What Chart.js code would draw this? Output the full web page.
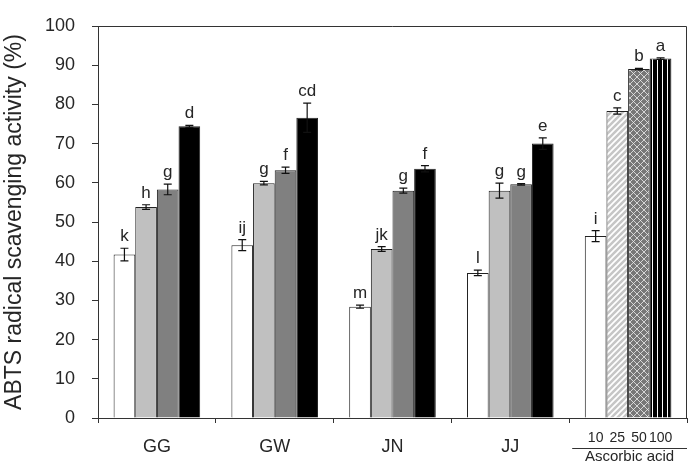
<!DOCTYPE html>
<html>
<head>
<meta charset="utf-8">
<script src="https://cdn.jsdelivr.net/npm/chart.js@4/dist/chart.umd.min.js"></script>
<style>
  html, body { margin: 0; padding: 0; background: #fff; }
  #wrap { width: 695px; height: 463px; }
</style>
</head>
<body>
<div id="wrap"><canvas id="chart" width="695" height="463"></canvas></div>
<script>
// ---- data ----
const categories = ['GG', 'GW', 'JN', 'JJ', 'Ascorbic acid'];
const concLabels = ['10', '25', '50', '100'];
const yTicks = [0, 10, 20, 30, 40, 50, 60, 70, 80, 90, 100];

// bar 1..4 of each group
const values1 = [41.7, 44.1, 28.4, 37.0, 46.4];
const values2 = [53.8, 59.9, 43.1, 58.0, 78.3];
const values3 = [58.3, 63.2, 58.0, 59.6, 89.0];
const values4 = [74.4, 76.6, 63.6, 70.0, 91.7];

const errors1 = [1.6, 1.4, 0.4, 0.7, 1.4];
const errors2 = [0.6, 0.45, 0.6, 1.9, 0.8];
const errors3 = [1.35, 0.8, 0.65, 0.2, 0.2];
const errors4 = [0.25, 3.75, 0.8, 1.45, 0.2];

const letters1 = ['k', 'ij', 'm', 'l', 'i'];
const letters2 = ['h', 'g', 'jk', 'g', 'c'];
const letters3 = ['g', 'f', 'g', 'g', 'b'];
const letters4 = ['d', 'cd', 'f', 'e', 'a'];

const FONT = '"Liberation Sans", Arial, sans-serif';
const TXT = '#262626';

// fill patterns for the ascorbic acid bars
function makePattern(kind) {
  const s = kind === 'stripe' ? 5 : (kind === 'diag' ? 6 : 7);
  const c = document.createElement('canvas');
  c.width = s; c.height = s;
  const g = c.getContext('2d');
  if (kind === 'diag') {
    g.fillStyle = '#c6c6c6';
    g.fillRect(0, 0, s, s);
    g.strokeStyle = '#fff';
    g.lineWidth = 1.7;
    g.beginPath();
    g.moveTo(-1, s + 1); g.lineTo(s + 1, -1);
    g.moveTo(-1, 1); g.lineTo(1, -1);
    g.moveTo(s - 1, s + 1); g.lineTo(s + 1, s - 1);
    g.stroke();
  } else if (kind === 'cross') {
    g.fillStyle = '#777';
    g.fillRect(0, 0, s, s);
    g.strokeStyle = '#eee';
    g.lineWidth = 0.8;
    g.beginPath();
    g.moveTo(0, 0); g.lineTo(s, s);
    g.moveTo(0, s); g.lineTo(s, 0);
    g.stroke();
  } else {
    g.fillStyle = '#000';
    g.fillRect(0, 0, s, s);
    g.fillStyle = '#fff';
    g.fillRect(2, 0, 1, s);
  }
  return g.createPattern(c, 'repeat');
}

const fills = [
  ['#fff', '#fff', '#fff', '#fff', '#fff'],
  ['#c0c0c0', '#c0c0c0', '#c0c0c0', '#c0c0c0', makePattern('diag')],
  ['#808080', '#808080', '#808080', '#808080', makePattern('cross')],
  ['#000', '#000', '#000', '#000', makePattern('stripe')]
];

const allValues = [values1, values2, values3, values4];
const allErrors = [errors1, errors2, errors3, errors4];
const allLetters = [letters1, letters2, letters3, letters4];

// error bars + significance letters
const errorBarPlugin = {
  id: 'errorBars',
  afterDatasetsDraw(chart) {
    const ctx = chart.ctx;
    const y = chart.scales.y;
    ctx.save();
    chart.data.datasets.forEach((ds, di) => {
      const meta = chart.getDatasetMeta(di);
      meta.data.forEach((bar, i) => {
        const v = allValues[di][i], e = allErrors[di][i];
        const top = y.getPixelForValue(v + e);
        const bot = y.getPixelForValue(v - e);
        ctx.strokeStyle = '#111';
        ctx.lineWidth = 1.2;
        ctx.beginPath();
        ctx.moveTo(bar.x, top); ctx.lineTo(bar.x, bot);
        ctx.moveTo(bar.x - 4, top); ctx.lineTo(bar.x + 4, top);
        ctx.moveTo(bar.x - 4, bot); ctx.lineTo(bar.x + 4, bot);
        ctx.stroke();
        ctx.fillStyle = TXT;
        ctx.font = '17px ' + FONT;
        ctx.textAlign = 'center';
        ctx.textBaseline = 'alphabetic';
        ctx.fillText(allLetters[di][i], bar.x, top - 7);
      });
    });
    ctx.restore();
  }
};

// frame (top/right) and the x labels
const framePlugin = {
  id: 'frame',
  afterDraw(chart) {
    const ctx = chart.ctx;
    const a = chart.chartArea;
    const x = chart.scales.x;
    ctx.save();
    ctx.strokeStyle = '#333';
    ctx.lineWidth = 1;
    ctx.beginPath();
    ctx.moveTo(a.left, a.top + 0.5); ctx.lineTo(a.right - 0.5, a.top + 0.5);
    ctx.lineTo(a.right - 0.5, a.bottom);
    ctx.stroke();

    ctx.fillStyle = TXT;
    ctx.textAlign = 'center';
    ctx.textBaseline = 'middle';
    ctx.font = '18px ' + FONT;
    for (let i = 0; i < categories.length - 1; i++) {
      ctx.fillText(categories[i], x.getPixelForValue(i), 447);
    }
    const last = categories.length - 1;
    ctx.font = '14px ' + FONT;
    concLabels.forEach((lab, di) => {
      const bar = chart.getDatasetMeta(di).data[last];
      ctx.fillText(lab, bar.x, 438);
    });
    const half = (x.getPixelForValue(1) - x.getPixelForValue(0)) / 2;
    const l0 = x.getPixelForValue(last) - half + 3;
    ctx.beginPath();
    ctx.moveTo(l0, 448.5); ctx.lineTo(a.right, 448.5);
    ctx.stroke();
    ctx.font = '15px ' + FONT;
    ctx.fillText(categories[last], (l0 + a.right) / 2, 457);
    ctx.restore();
  }
};

new Chart(document.getElementById('chart'), {
  type: 'bar',
  data: {
    labels: categories,
    datasets: allValues.map((vals, di) => ({
      data: vals,
      backgroundColor: fills[di],
      borderColor: '#222',
      borderWidth: 1,
      categoryPercentage: 0.735,
      barPercentage: 1.0
    }))
  },
  options: {
    responsive: false,
    animation: false,
    layout: { padding: { top: 9, right: 8, left: 0, bottom: 0 } },
    plugins: { legend: { display: false }, tooltip: { enabled: false } },
    scales: {
      x: {
        afterFit: s => { s.height = 45; },
        ticks: { display: false },
        grid: { offset: true, drawOnChartArea: false, drawTicks: true, tickLength: 5, color: '#333' },
        border: { color: '#333', width: 1 }
      },
      y: {
        min: 0,
        max: 100,
        afterFit: s => { s.width = 98; },
        afterBuildTicks: s => { s.ticks = yTicks.map(v => ({ value: v })); },
        ticks: { color: TXT, padding: 17, font: { family: FONT, size: 18, lineHeight: 1 } },
        grid: { drawOnChartArea: false, drawTicks: true, tickLength: 6, color: '#333' },
        border: { color: '#333', width: 1 },
        title: {
          display: true,
          text: 'ABTS radical scavenging activity (%)',
          color: TXT,
          padding: { top: 1, bottom: 0 },
          font: { family: FONT, size: 23 }
        }
      }
    }
  },
  plugins: [errorBarPlugin, framePlugin]
});
</script>
</body>
</html>
